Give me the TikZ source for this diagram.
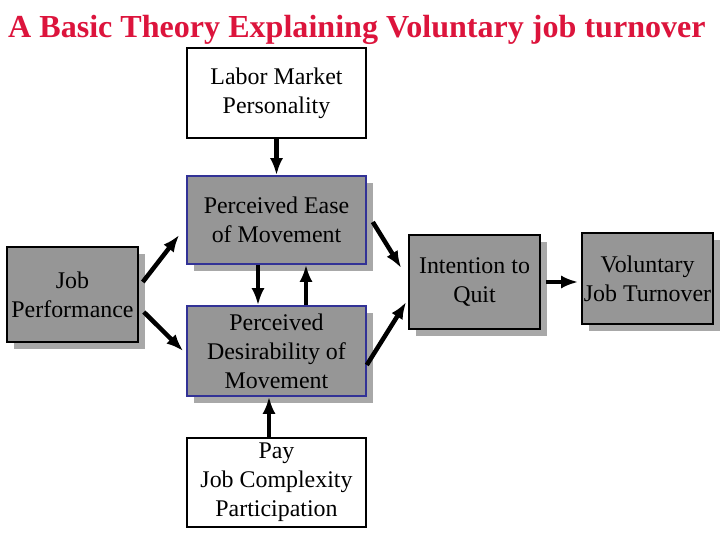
\documentclass[tikz,border=0pt]{standalone}
\usepackage{fontspec}
\setmainfont{Liberation Serif}
\usetikzlibrary{arrows.meta,shadows,positioning}
\definecolor{titlered}{RGB}{220,20,60}
\definecolor{boxgray}{RGB}{150,150,150}
\definecolor{shadowgray}{RGB}{168,168,168}
\definecolor{boxblue}{RGB}{50,50,150}
\tikzset{>={Latex[length=17bp,width=13bp]}}
\tikzset{
  plainbox/.style={draw=black, line width=1.6bp, fill=white, align=center,
    inner sep=0pt, font=\fontsize{24}{29}\selectfont},
  graybox/.style={plainbox, fill=boxgray,
    drop shadow={shadow xshift=7bp, shadow yshift=-7bp, fill=shadowgray, opacity=1}},
  bluebox/.style={graybox, draw=boxblue},
  link/.style={->, line width=4.5bp}
}

\begin{document}
\begin{tikzpicture}[x=1bp, y=-1bp]
  \useasboundingbox (0,0) rectangle (720,540);
  % title
  \node[anchor=base west, inner sep=0pt, text=titlered,
    font=\fontsize{32.2}{38}\selectfont\bfseries] (title) at (8,38)
    {A Basic Theory Explaining Voluntary job turnover};
  % boxes
  \node[plainbox, minimum width=179bp, minimum height=90bp] (labor) at (276.5,93)
    {Labor Market\\Personality};
  \node[bluebox, minimum width=179bp, minimum height=88bp] (ease) at (276.5,220)
    {Perceived Ease\\of Movement};
  \node[bluebox, minimum width=179bp, minimum height=90bp] (desire) at (276.5,351)
    {Perceived\\Desirability of\\Movement};
  \node[plainbox, minimum width=179bp, minimum height=89bp] (pay) at (276.5,482.5)
    {Pay\\Job Complexity\\Participation};
  \node[graybox, minimum width=131bp, minimum height=95bp] (perf) at (72.5,294.5)
    {Job\\Performance};
  \node[graybox, minimum width=131bp, minimum height=94bp] (quit) at (474.5,282)
    {Intention to\\Quit};
  \node[graybox, minimum width=131bp, minimum height=91bp] (turnover) at (647.5,278.5)
    {Voluntary\\Job Turnover};
  % arrows
  \draw[link] (labor) -- (ease);
  \draw[link] ([xshift=-18.5bp]ease.south) -- ([xshift=-18.5bp]desire.north);
  \draw[link] ([xshift=29.5bp]desire.north) -- ([xshift=29.5bp]ease.south);
  \draw[link] ([xshift=-7.5bp]pay.north) -- ([xshift=-7.5bp]desire.south);
  \draw[link] ([shift={(4,-12.5)}]perf.east) -- ([shift={(-7,15)}]ease.west);
  \draw[link] ([shift={(5,17.5)}]perf.east) -- ([shift={(-3,0)}]desire.west);
  \draw[link] ([shift={(6,2)}]ease.east) -- ([shift={(-7,-14)}]quit.west);
  \draw[link] ([shift={(0,14)}]desire.east) -- ([shift={(-2,20)}]quit.west);
  \draw[link] ([xshift=5bp]quit.east) -- ([xshift=-3bp]turnover.west |- quit.east);
\end{tikzpicture}
\end{document}
